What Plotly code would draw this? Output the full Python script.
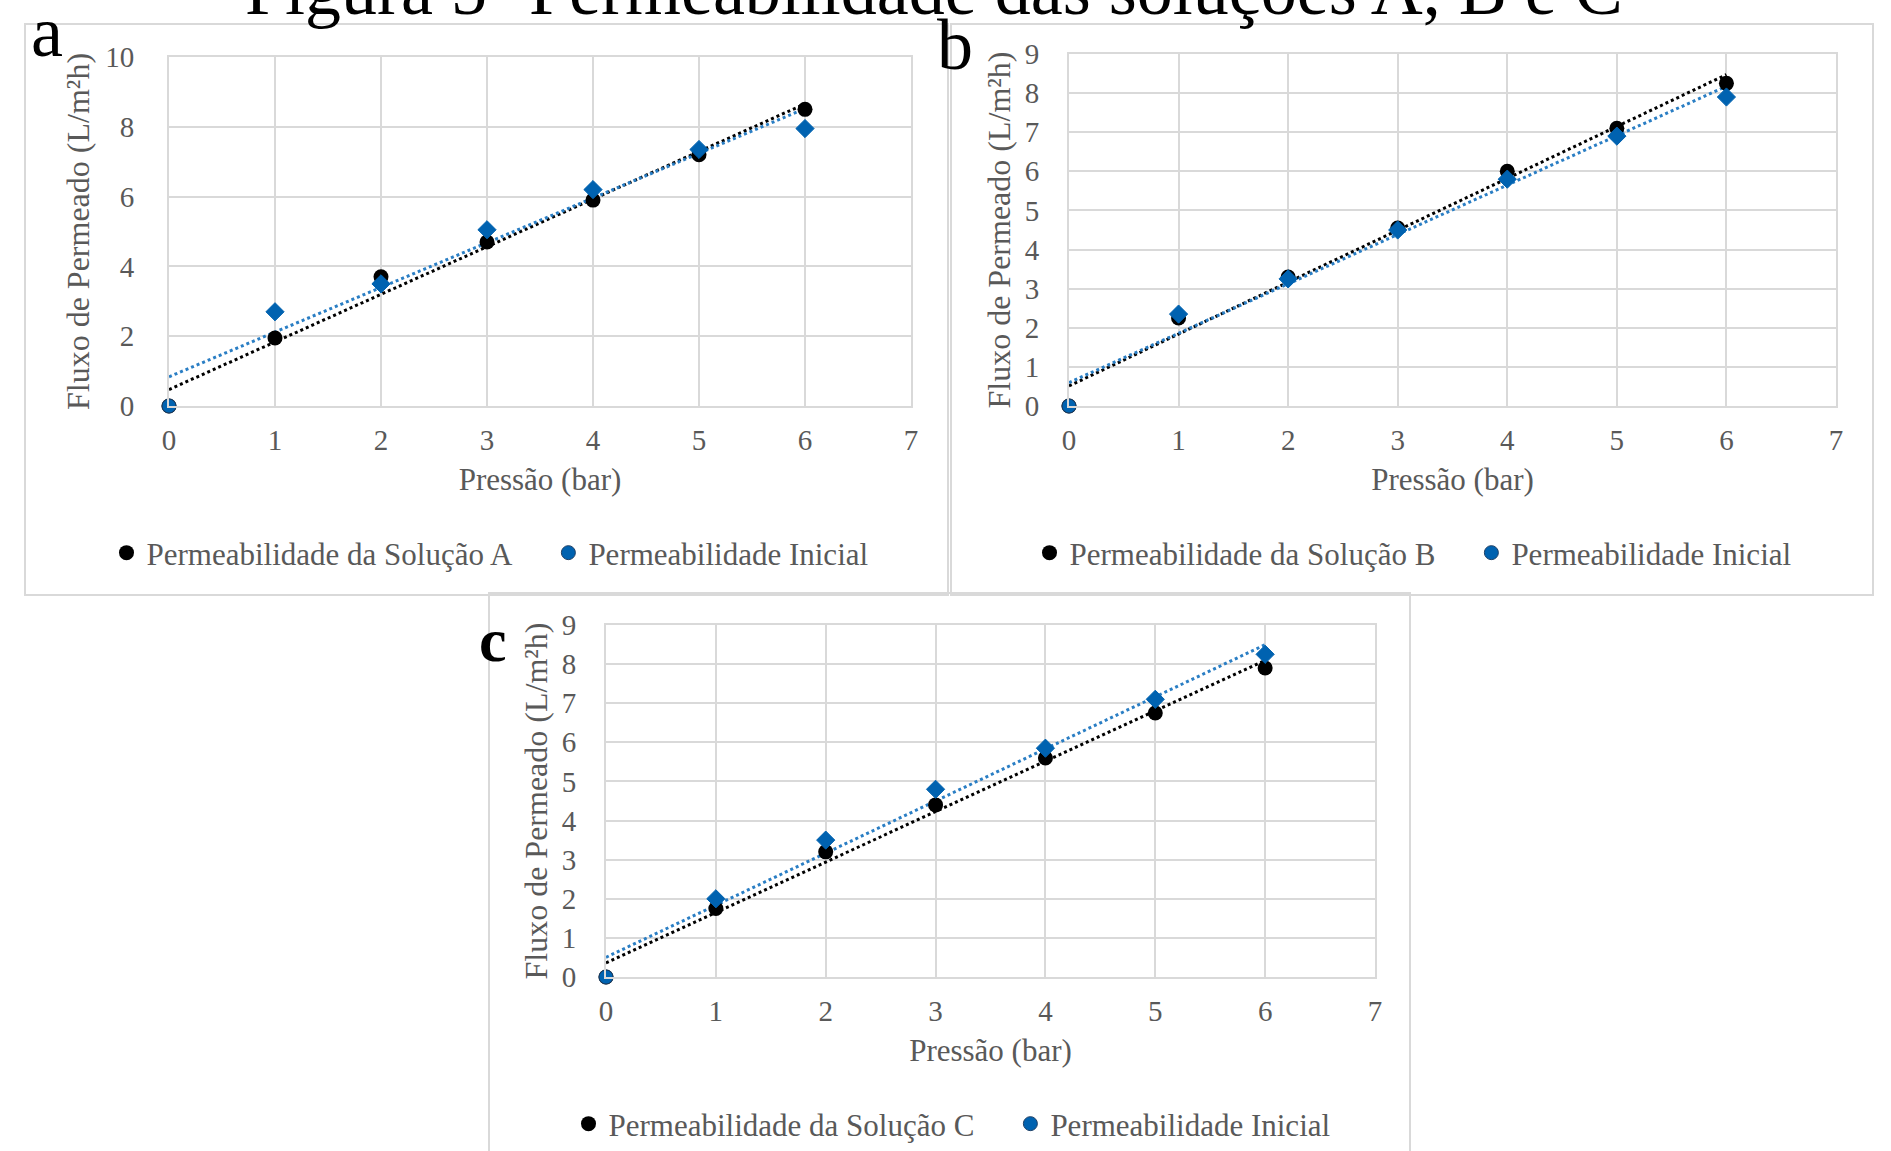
import numpy as np
import plotly.graph_objects as go

# ---------------- data ----------------
pressao = [0, 1, 2, 3, 4, 5, 6]
x_ticks = [0, 1, 2, 3, 4, 5, 6, 7]

sol_a = [0, 1.95, 3.70, 4.70, 5.90, 7.20, 8.50]
ini_a = [0, 2.70, 3.50, 5.05, 6.20, 7.35, 7.95]
sol_b = [0, 2.25, 3.30, 4.55, 6.00, 7.10, 8.25]
ini_b = [0, 2.35, 3.25, 4.50, 5.80, 6.90, 7.90]
sol_c = [0, 1.75, 3.20, 4.40, 5.60, 6.75, 7.90]
ini_c = [0, 2.00, 3.50, 4.80, 5.85, 7.10, 8.25]

name_sol = ["Permeabilidade da Solução A", "Permeabilidade da Solução B", "Permeabilidade da Solução C"]
name_ini = "Permeabilidade Inicial"
panel_letters = ["a", "b", "c"]
title_text = "Figura 5- Permeabilidade das soluções A, B e C"
x_title = "Pressão (bar)"
y_title = "Fluxo de Permeado (L/m²h)"
y_max = [10, 9, 9]
y_dtick = [2, 1, 1]

# ---------------- layout helpers ----------------
W, H = 1891, 1151
def px(x):
    return x / W
def py(y):
    return 1 - y / H

FONT = "Liberation Serif, Times New Roman, serif"
GRAY = "#595959"
GRID = "#d9d9d9"
BLACK = "#000000"
BLUE = "#0062B0"
BLUE_LINE = "#2A7EC4"

# plot areas in pixels (x0, x1, ytop, ybottom)
areas = [(169, 911, 57, 406), (1069, 1836, 54, 406), (606, 1375, 625, 977)]
legend_pos = [(490, 553), (1413, 553), (952, 1124)]
borders = [(25, 24, 948, 595), (951, 24, 1873, 595), (489, 593, 1410, 1160)]
letters_pos = [(47, 32, False), (955, 45, False), (493, 640, True)]
ytick_standoff = [27, 22, 22]
ytitle_standoff = [6, 5, 5]

fig = go.Figure()

series = [(sol_a, ini_a), (sol_b, ini_b), (sol_c, ini_c)]
for i, (sol, ini) in enumerate(series):
    sfx = "" if i == 0 else str(i + 1)
    xa = "x" + sfx
    ya = "y" + sfx
    lg = "legend" + sfx
    xs = np.array(pressao, dtype=float)
    xfit = np.array([xs.min(), xs.max()])
    # trendlines (linear least squares)
    for vals, col in ((sol, BLACK), (ini, BLUE_LINE)):
        k, b = np.polyfit(xs, np.array(vals, dtype=float), 1)
        fig.add_trace(go.Scatter(x=xfit, y=k * xfit + b, mode="lines",
                                 line=dict(color=col, width=3, dash="dot"),
                                 showlegend=False, hoverinfo="skip",
                                 xaxis=xa, yaxis=ya, cliponaxis=False))
    fig.add_trace(go.Scatter(x=pressao, y=sol, mode="markers",
                             name=name_sol[i] + "\u00a0\u00a0\u00a0\u00a0",
                             marker=dict(color=BLACK, size=15, symbol="circle"),
                             xaxis=xa, yaxis=ya, legend=lg, cliponaxis=False))
    symbols = ["circle"] + ["diamond"] * (len(pressao) - 1)
    fig.add_trace(go.Scatter(x=pressao, y=ini, mode="markers", name=name_ini,
                             marker=dict(color=BLUE, size=14,
                                         symbol=symbols,
                                         line=dict(color=["#1c3f66"] + [BLUE] * (len(pressao) - 1), width=1)),
                             xaxis=xa, yaxis=ya, legend=lg, cliponaxis=False))

layout = dict(
    width=W, height=H,
    margin=dict(l=0, r=0, t=0, b=0),
    paper_bgcolor="white", plot_bgcolor="white",
    template="none",
    font=dict(family=FONT, color=GRAY, size=28),
    showlegend=True,
)

for i in range(3):
    sfx = "" if i == 0 else str(i + 1)
    x0, x1, yt, yb = areas[i]
    layout["xaxis" + sfx] = dict(
        domain=[px(x0), px(x1)], range=[0, 7], anchor="y" + sfx,
        tickmode="array", tickvals=x_ticks, ticktext=[str(t) for t in x_ticks],
        showgrid=True, gridcolor=GRID, gridwidth=2,
        showline=True, linecolor=GRID, linewidth=2, mirror=True,
        zeroline=False, ticks="", ticklabelstandoff=7,
        tickfont=dict(family=FONT, size=29, color=GRAY),
        title=dict(text=x_title, font=dict(family=FONT, size=31, color=GRAY), standoff=14),
        automargin=False, fixedrange=True,
    )
    layout["yaxis" + sfx] = dict(
        domain=[py(yb), py(yt)], range=[0, y_max[i]], anchor="x" + sfx,
        dtick=y_dtick[i], tick0=0,
        showgrid=True, gridcolor=GRID, gridwidth=2,
        showline=True, linecolor=GRID, linewidth=2, mirror=True,
        zeroline=False, ticks="", ticklabelstandoff=ytick_standoff[i],
        tickfont=dict(family=FONT, size=29, color=GRAY),
        title=dict(text=y_title, font=dict(family=FONT, size=32, color=GRAY), standoff=ytitle_standoff[i]),
        automargin=False, fixedrange=True,
    )
    lx, ly = legend_pos[i]
    layout["legend" + sfx] = dict(
        orientation="h", x=px(lx), y=py(ly), xanchor="center", yanchor="middle",
        xref="paper", yref="paper",
        font=dict(family=FONT, size=31, color=GRAY),
        bgcolor="rgba(0,0,0,0)", itemwidth=30, tracegroupgap=0,
    )

fig.update_layout(**layout)

shapes = []
for (bx0, by0, bx1, by1) in borders:
    shapes.append(dict(type="rect", xref="paper", yref="paper",
                       x0=px(bx0), x1=px(bx1), y0=py(by1), y1=py(by0),
                       line=dict(color=GRID, width=2), fillcolor="rgba(0,0,0,0)", layer="below"))
fig.update_layout(shapes=shapes)

annotations = []
for letter, (lx, ly, bold) in zip(panel_letters, letters_pos):
    annotations.append(dict(text=("<b>%s</b>" % letter) if bold else letter,
                            xref="paper", yref="paper", x=px(lx), y=py(ly),
                            xanchor="center", yanchor="middle", showarrow=False,
                            font=dict(family=FONT, size=72 if not bold else 62, color=BLACK)))
annotations.append(dict(text=title_text, xref="paper", yref="paper",
                        x=px(934), y=py(-10), xanchor="center", yanchor="middle",
                        showarrow=False, font=dict(family=FONT, size=72, color=BLACK)))
fig.update_layout(annotations=annotations)

fig.write_html("out.html", config={"displayModeBar": False},
               post_script="document.body.style.margin='0';document.body.style.overflow='hidden';")
